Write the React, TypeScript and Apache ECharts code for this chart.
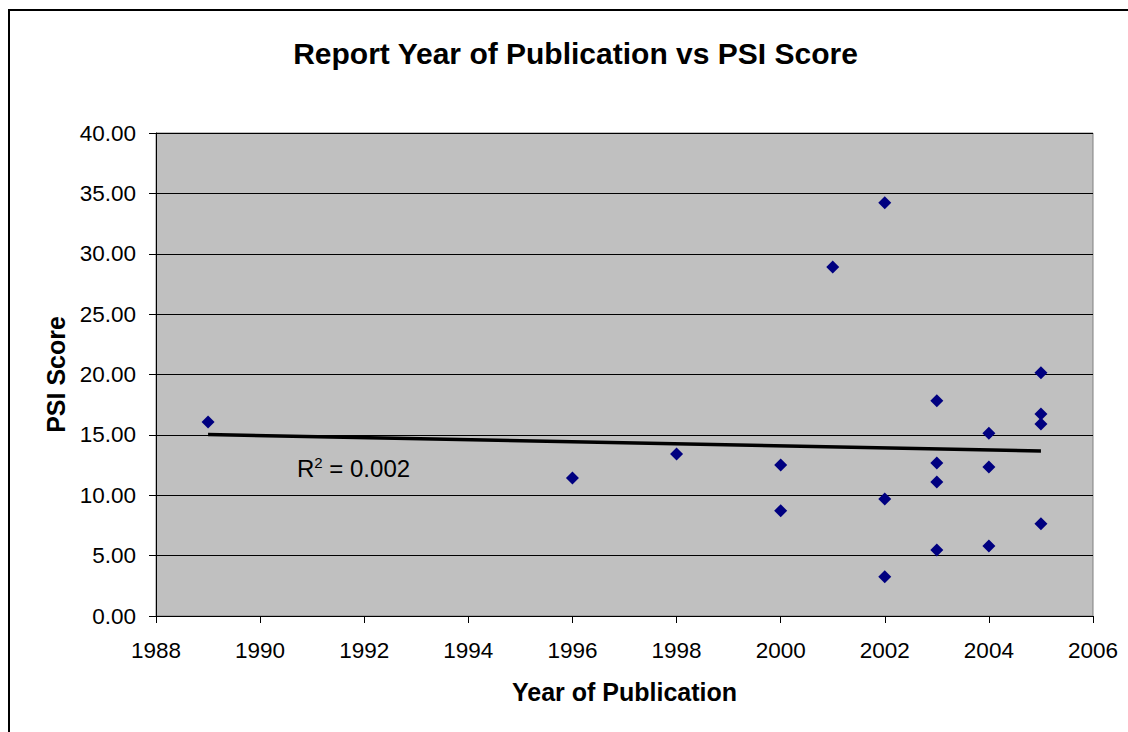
import React, { useEffect, useRef } from "react";
import * as echarts from "echarts";

const years: number[] = [1989, 1996, 1998, 2000, 2000, 2001, 2002, 2002, 2002, 2003, 2003, 2003, 2003, 2004, 2004, 2004, 2005, 2005, 2005, 2005];
const psiScores: number[] = [16.07, 11.43, 13.42, 12.5, 8.72, 28.9, 34.23, 9.69, 3.26, 17.83, 12.67, 11.1, 5.47, 15.13, 12.34, 5.8, 20.15, 16.73, 15.9, 7.65];
const titleText = "Report Year of Publication vs PSI Score";
const xAxisName = "Year of Publication";
const yAxisName = "PSI Score";
const rSquaredText = "0.002";

function linearFit(xs: number[], ys: number[]) {
  const n = xs.length;
  const mx = xs.reduce((a, b) => a + b, 0) / n;
  const my = ys.reduce((a, b) => a + b, 0) / n;
  let sxx = 0;
  let sxy = 0;
  for (let i = 0; i < n; i++) {
    sxx += (xs[i] - mx) * (xs[i] - mx);
    sxy += (xs[i] - mx) * (ys[i] - my);
  }
  const slope = sxy / sxx;
  const intercept = my - slope * mx;
  return (x: number) => intercept + slope * x;
}

export default function App() {
  const ref = useRef<HTMLDivElement>(null);
  useEffect(() => {
    if (!ref.current) return;
    const chart = echarts.init(ref.current, null, { renderer: "svg" });
    const fit = linearFit(years, psiScores);
    const xMin = Math.min(...years);
    const xMax = Math.max(...years);
    const font = "'Liberation Sans', Arial, sans-serif";
    chart.setOption({
      animation: false,
      backgroundColor: "#ffffff",
      textStyle: { fontFamily: font },
      grid: {
        left: 156,
        top: 133,
        width: 937,
        height: 483,
        show: true,
        backgroundColor: "#C0C0C0",
        borderColor: "#808080",
        borderWidth: 1,
      },
      xAxis: {
        type: "value",
        min: 1988,
        max: 2006,
        interval: 2,
        name: xAxisName,
        nameLocation: "middle",
        nameGap: 63,
        nameTextStyle: { fontFamily: font, fontSize: 25, fontWeight: "bold", color: "#000" },
        axisLine: { show: true, lineStyle: { color: "#000", width: 1 } },
        axisTick: { show: true, inside: false, length: 7, lineStyle: { color: "#000" } },
        axisLabel: {
          fontFamily: font,
          fontSize: 22.5,
          color: "#000",
          margin: 23,
          formatter: (v: number) => String(v),
        },
        splitLine: { show: false },
      },
      yAxis: {
        type: "value",
        min: 0,
        max: 40,
        interval: 5,
        name: yAxisName,
        nameLocation: "middle",
        nameGap: 86,
        nameRotate: 90,
        nameTextStyle: { fontFamily: font, fontSize: 25, fontWeight: "bold", color: "#000" },
        axisLine: { show: true, lineStyle: { color: "#000", width: 1 } },
        axisTick: { show: true, inside: false, length: 7, lineStyle: { color: "#000" } },
        axisLabel: {
          fontFamily: font,
          fontSize: 22.5,
          color: "#000",
          margin: 20,
          formatter: (v: number) => v.toFixed(2),
        },
        splitLine: { show: true, lineStyle: { color: "#000", width: 1 } },
      },
      graphic: [
        {
          type: "rect",
          shape: { x: 9, y: 10, width: 1140, height: 740 },
          style: { fill: "none", stroke: "#000", lineWidth: 2 },
          silent: true,
          z: 100,
        },
        {
          type: "text",
          x: 575.5,
          y: 53,
          style: {
            text: titleText,
            font: "bold 30px " + font,
            fill: "#000",
            align: "center",
            verticalAlign: "middle",
          },
          z: 50,
        },
        {
          type: "text",
          x: 297,
          y: 468,
          style: {
            text: "R{sup|2} = " + rSquaredText,
            font: "24px " + font,
            fill: "#000",
            verticalAlign: "middle",
            rich: {
              sup: { fontSize: 15, fontFamily: font, verticalAlign: "top", padding: [0, 0, 12, 0], fill: "#000" },
            },
          },
          z: 50,
        },
      ],
      series: [
        {
          type: "line",
          data: [
            [xMin, fit(xMin)],
            [xMax, fit(xMax)],
          ],
          symbol: "none",
          lineStyle: { color: "#000", width: 3.5 },
          z: 2,
        },
        {
          type: "scatter",
          data: years.map((y, i) => [y, psiScores[i]]),
          symbol: "diamond",
          symbolSize: [13, 13],
          itemStyle: { color: "#000080", opacity: 1 },
          z: 3,
        },
      ],
    });
    return () => chart.dispose();
  }, []);
  return (
    <div
      ref={ref}
      style={{ position: "fixed", left: 0, top: 0, width: 1128, height: 732 }}
    />
  );
}
